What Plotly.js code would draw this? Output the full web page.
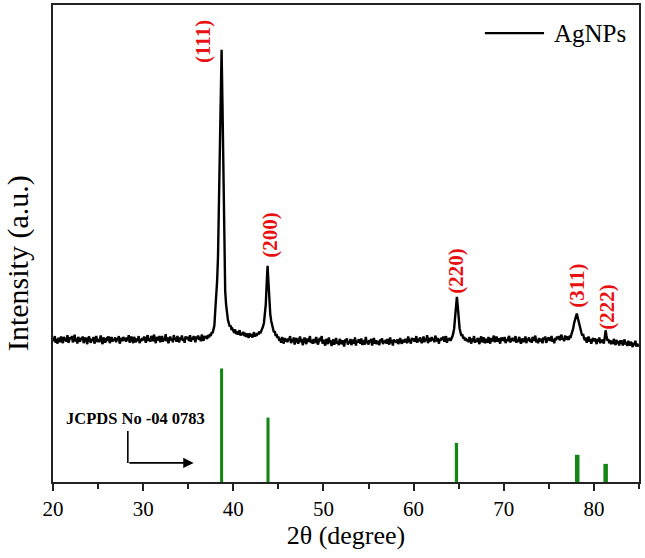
<!DOCTYPE html>
<html>
<head>
<meta charset="utf-8">
<script src="https://cdn.plot.ly/plotly-3.0.1.min.js"></script>
<style>html,body{margin:0;padding:0;background:#fff;}#chart{width:645px;height:558px;}</style>
</head>
<body>
<div id="chart"></div>
<script>
// 2θ sampling grid of the scan (degrees)
const scanStart = 20.0;
const scanStep = 0.1;

// AgNPs XRD intensity (a.u.), one row per degree, 0.1° apart
const intensity = [
  303,295,306,292,300,290,302,299,293,305, // 20
  296,291,304,299,301,294,308,292,297,303, // 21
  300,306,293,298,309,295,301,290,304,297, // 22
  294,302,299,305,291,298,303,296,289,301, // 23
  305,297,292,300,296,304,290,299,306,294, // 24
  299,293,301,307,295,289,303,298,292,300, // 25
  302,296,305,291,299,304,294,300,297,303, // 26
  293,301,298,306,290,297,302,295,304,299, // 27
  300,294,303,297,308,292,299,305,296,291, // 28
  304,298,293,301,296,306,291,300,295,302, // 29
  297,305,299,292,303,308,296,301,294,306, // 30
  302,295,309,298,291,304,300,297,306,293, // 31
  299,306,294,302,297,310,295,303,291,300, // 32
  305,297,301,293,308,299,302,294,306,298, // 33
  293,303,299,307,296,301,292,305,300,304, // 34
  301,296,308,294,302,299,306,297,293,305, // 35
  300,307,298,304,295,309,301,296,306,303, // 36
  304,300,308,303,310,306,314,312,320,328, // 37
  360,385,420,470,590,700,850,906,790,620, // 38
  480,400,372,352,340,333,326,328,319,321, // 39
  318,313,320,310,316,309,314,318,307,312, // 40
  309,315,306,313,304,311,308,302,312,305, // 41
  310,303,308,314,305,311,306,313,309,316, // 42
  312,316,320,326,334,348,372,415,453,418, // 43
  378,352,338,326,322,314,316,306,310,302, // 44
  305,296,301,292,304,298,290,302,295,300, // 45
  293,301,297,306,291,299,294,303,288,298, // 46
  302,295,290,299,305,293,300,287,297,303, // 47
  296,289,301,294,298,306,292,297,290,300, // 48
  291,299,304,293,288,297,302,295,306,290, // 49
  298,291,286,300,295,289,303,292,297,285, // 50
  293,299,288,296,302,290,294,287,300,296, // 51
  289,297,292,284,299,294,301,288,295,291, // 52
  300,287,294,298,290,303,286,296,292,299, // 53
  295,290,301,287,297,293,288,304,291,296, // 54
  288,298,293,300,286,295,302,290,297,289, // 55
  296,291,287,299,294,301,289,296,292,298, // 56
  290,300,295,288,303,291,297,286,299,294, // 57
  297,292,299,289,294,302,293,290,298,295, // 58
  293,300,296,291,305,294,299,290,302,297, // 59
  301,294,298,306,292,300,295,303,297,291, // 60
  299,305,293,300,296,308,291,302,298,295, // 61
  304,297,301,293,307,299,295,302,290,300, // 62
  296,303,298,305,294,300,306,292,301,297, // 63
  302,296,300,305,312,322,345,372,388,368, // 64
  340,322,314,306,310,301,304,297,302,295, // 65
  299,293,304,296,290,301,295,306,292,298, // 66
  294,302,297,289,300,305,293,298,303,291, // 67
  300,296,292,304,298,290,302,295,299,307, // 68
  293,299,305,294,301,297,290,303,296,300, // 69
  298,304,291,299,295,302,306,293,297,301, // 70
  302,295,300,306,292,298,294,304,299,290, // 71
  296,301,293,298,305,291,300,297,303,294, // 72
  299,292,304,300,296,307,293,298,291,302, // 73
  294,300,297,291,303,299,305,292,298,301, // 74
  303,296,299,306,294,300,291,302,297,305, // 75
  300,306,297,303,309,298,302,295,307,301, // 76
  300,305,298,304,302,309,314,322,333,342, // 77
  348,353,345,336,326,318,314,307,310,302, // 78
  297,303,292,299,305,294,300,290,298,302, // 79
  295,301,297,289,300,294,303,291,298,293, // 80
  299,290,303,318,306,296,300,291,297,289, // 81
  296,289,300,293,287,298,291,295,286,297, // 82
  290,297,286,294,299,288,293,285,296,291, // 83
  286,294,289,283,292,287,296,284,290,285, // 84
  288                                      // 85
];

// JCPDS No. 04-0783 reference lines
const refPositions = [38.7, 43.85, 64.75, 78.15, 81.3];
const refIntensity = [238, 135, 82, 57, 38];

// Miller index labels
const hklLabels = ['(111)', '(200)', '(220)', '(311)', '(222)'];
const hklPositions = [36.72, 44.04, 64.77, 78.1, 81.42];
const hklHeights = [924, 518, 442, 411, 367];

const seriesName = 'AgNPs';

const twoTheta = intensity.map((_, i) => +(scanStart + i * scanStep).toFixed(2));

const serif = 'Liberation Serif, Times New Roman, Times, serif';
const frameColor = '#222';
const green = '#148614';
const red = '#e81010';

const traces = [
  {
    type: 'scatter', mode: 'lines', name: seriesName,
    x: twoTheta, y: intensity,
    line: {color: '#000', width: 2.4},
    hoverinfo: 'skip'
  },
  {
    type: 'bar', name: 'JCPDS',
    x: refPositions, y: refIntensity,
    width: [0.34, 0.34, 0.36, 0.5, 0.5],
    marker: {color: green, line: {width: 0}},
    hoverinfo: 'skip'
  }
];

const annotations = hklLabels.map((t, i) => ({
  x: hklPositions[i], y: hklHeights[i], xref: 'x', yref: 'y',
  text: '<b>' + t + '</b>', showarrow: false, textangle: -90,
  font: {family: serif, size: 21, color: red},
  xanchor: 'center', yanchor: 'middle'
}));

annotations.push({
  x: 29.2, y: 134, xref: 'x', yref: 'y',
  text: '<b>JCPDS No -04 0783</b>', showarrow: false,
  font: {family: serif, size: 16.5, color: '#000'},
  xanchor: 'center', yanchor: 'middle'
});
annotations.push({
  x: 35.6, y: 40, ax: 28.3, ay: 40, xref: 'x', yref: 'y', axref: 'x', ayref: 'y',
  text: '', showarrow: true, arrowhead: 2, arrowsize: 1.3, arrowwidth: 1.6, arrowcolor: '#000'
});
annotations.push({
  x: 0.8515, y: 0.941, xref: 'paper', yref: 'paper',
  text: seriesName, showarrow: false,
  font: {family: serif, size: 25, color: '#000'},
  xanchor: 'left', yanchor: 'middle'
});
annotations.push({
  x: -0.0597, y: 0.459, xref: 'paper', yref: 'paper',
  text: 'Intensity (a.u.)', showarrow: false, textangle: -90,
  font: {family: serif, size: 30, color: '#000'},
  xanchor: 'center', yanchor: 'middle'
});

const shapes = [
  {type: 'line', xref: 'x', yref: 'y', x0: 28.3, x1: 28.3, y0: 107, y1: 40,
   line: {color: '#000', width: 1.6}},
  {type: 'line', xref: 'paper', yref: 'paper', x0: 0.737, x1: 0.838, y0: 0.941, y1: 0.941,
   line: {color: '#000', width: 2.2}}
];

const layout = {
  width: 645, height: 558,
  margin: {l: 53, r: 6, t: 5, b: 76, pad: 0},
  paper_bgcolor: '#fff', plot_bgcolor: '#fff',
  showlegend: false,
  font: {family: serif, color: '#000'},
  xaxis: {
    range: [20, 85], tick0: 20, dtick: 10,
    ticks: 'outside', ticklen: 7, tickwidth: 2, tickcolor: frameColor,
    showline: true, linewidth: 2, linecolor: frameColor, mirror: true,
    showgrid: false, zeroline: false,
    tickfont: {family: serif, size: 21, color: '#000'},
    title: {text: '2θ (degree)', font: {family: serif, size: 26, color: '#000'}, standoff: 4},
    minor: {dtick: 5, tick0: 20, ticks: 'outside', ticklen: 5, tickwidth: 2, tickcolor: frameColor, showgrid: false}
  },
  yaxis: {
    range: [0, 1000], showticklabels: false, ticks: '',
    showline: true, linewidth: 2, linecolor: frameColor, mirror: true,
    showgrid: false, zeroline: false
  },
  annotations: annotations,
  shapes: shapes
};

Plotly.newPlot('chart', traces, layout, {displayModeBar: false, staticPlot: true});
</script>
</body>
</html>
